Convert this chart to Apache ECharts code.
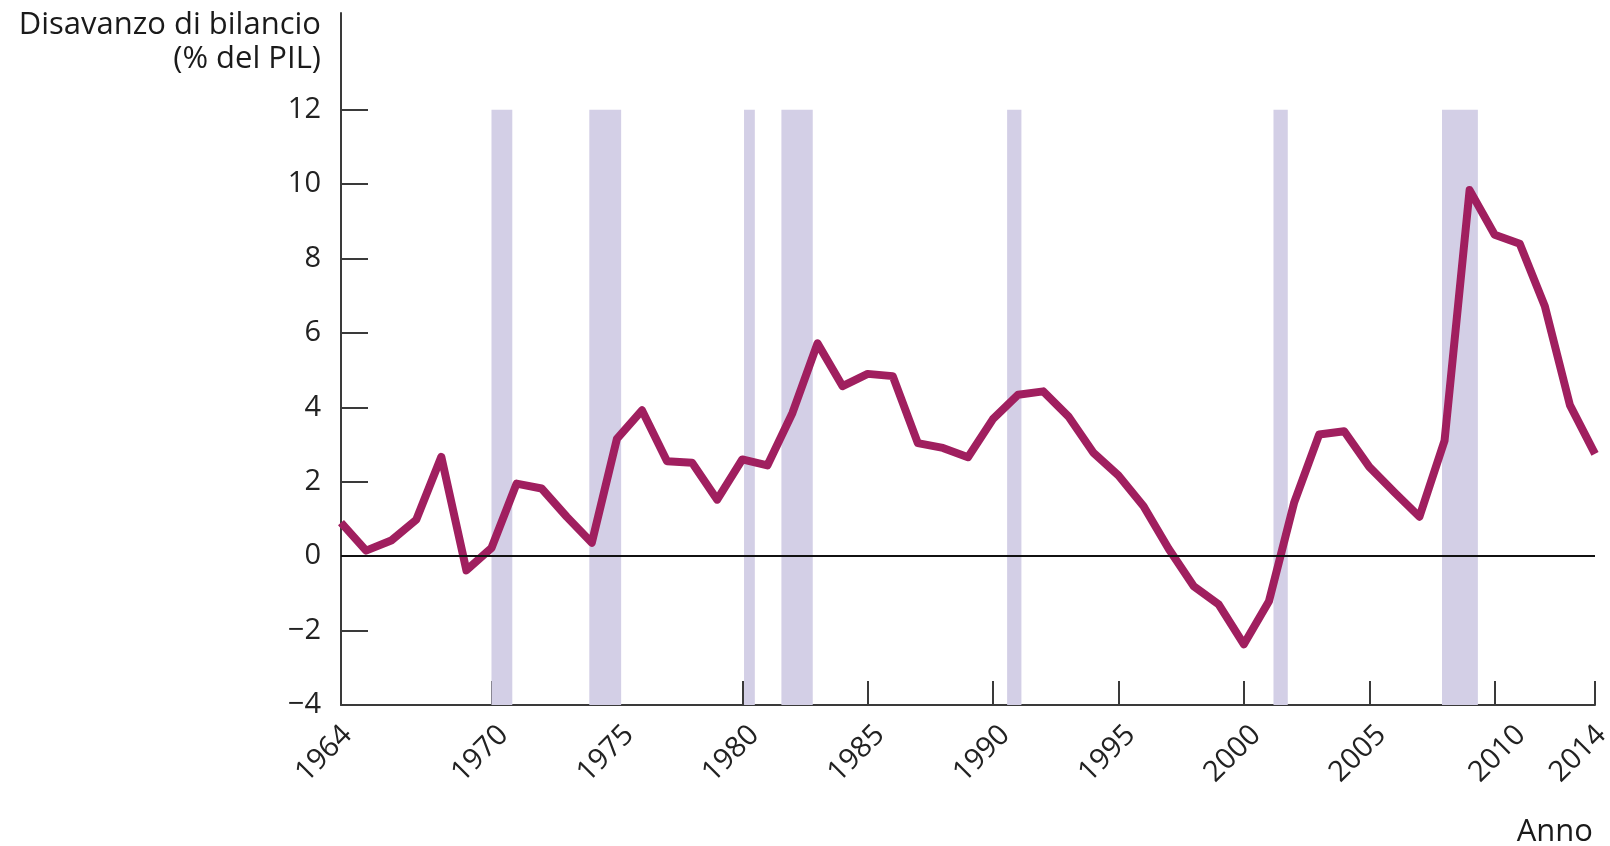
<!DOCTYPE html>
<html>
<head>
<meta charset="utf-8">
<script src="https://cdn.jsdelivr.net/npm/echarts@6/dist/echarts.min.js"></script>
<style>
  html, body { margin: 0; padding: 0; background: #fff; }
  #chart { width: 1610px; height: 846px; }
</style>
</head>
<body>
<div id="chart"></div>
<script>
// ---- data ----
const years = [1964, 1965, 1966, 1967, 1968, 1969, 1970, 1971, 1972, 1973, 1974,
  1975, 1976, 1977, 1978, 1979, 1980, 1981, 1982, 1983, 1984,
  1985, 1986, 1987, 1988, 1989, 1990, 1991, 1992, 1993, 1994,
  1995, 1996, 1997, 1998, 1999, 2000, 2001, 2002, 2003, 2004,
  2005, 2006, 2007, 2008, 2009, 2010, 2011, 2012, 2013, 2014];
const deficit = [0.9, 0.15, 0.42, 0.98, 2.67, -0.38, 0.22, 1.95, 1.82, 1.06, 0.36,
  3.15, 3.92, 2.55, 2.51, 1.52, 2.6, 2.44, 3.85, 5.72, 4.57,
  4.9, 4.84, 3.04, 2.91, 2.66, 3.69, 4.34, 4.43, 3.76, 2.78,
  2.17, 1.34, 0.2, -0.81, -1.3, -2.37, -1.21, 1.43, 3.27, 3.36,
  2.4, 1.72, 1.06, 3.1, 9.84, 8.64, 8.4, 6.72, 4.06, 2.75];
// recession periods (start, end) in fractional years
const recessions = [[1970.0, 1970.83], [1973.9, 1975.17], [1980.07, 1980.5],
  [1981.56, 1982.81], [1990.56, 1991.13], [2001.18, 2001.75], [2007.9, 2009.33]];
const xTickValues = [1970, 1975, 1980, 1985, 1990, 1995, 2000, 2005, 2010, 2014];
const xLabelValues = [1964, 1970, 1975, 1980, 1985, 1990, 1995, 2000, 2005, 2010, 2014];
const yTickValues = [-4, -2, 0, 2, 4, 6, 8, 10, 12];
const yTitle = 'Disavanzo di bilancio\n(% del PIL)';
const xTitle = 'Anno';

// ---- chart ----
const FONT = '"Open Sans", "Noto Sans", sans-serif';
const chart = echarts.init(document.getElementById('chart'), null, { renderer: 'canvas' });

const lineData = years.map((y, i) => [y, deficit[i]]);
const bandData = recessions.map(r => [{ xAxis: r[0], yAxis: -4 }, { xAxis: r[1], yAxis: 12 }]);

// label nudges (rich style keys) to follow the reference's label placement
function xLabelFormatter(v) {
  const s = String(v);
  if (v === 1964 || v === 2014) return '{l|' + s + '}';
  if (v === 2010) return '{r|' + s + '}';
  return '{n|' + s + '}';
}
const labelFont = { fontFamily: FONT, fontSize: 29, color: '#222' };

chart.setOption({
  animation: false,
  backgroundColor: '#ffffff',
  grid: { left: 341, right: 15, top: 13, bottom: 141, containLabel: false, outerBoundsMode: 'none' },
  xAxis: {
    type: 'value',
    min: 1964,
    max: 2014,
    splitLine: { show: false },
    axisLine: { show: true, onZero: false, lineStyle: { color: '#3a3a3a', width: 2 } },
    axisTick: { show: true, inside: true, length: 24, customValues: xTickValues,
      lineStyle: { color: '#3a3a3a', width: 2 } },
    axisLabel: {
      customValues: xLabelValues,
      rotate: 45,
      align: 'center',
      verticalAlign: 'middle',
      margin: 49,
      padding: [0, 16, 16, 0],
      fontFamily: FONT,
      fontSize: 29,
      color: '#222',
      formatter: xLabelFormatter,
      rich: {
        n: Object.assign({}, labelFont),
        l: Object.assign({ padding: [0, 8, 8, 0] }, labelFont),
        r: Object.assign({ padding: [20, 0, 0, 20] }, labelFont)
      }
    }
  },
  yAxis: {
    type: 'value',
    min: -4,
    max: 14.6,
    splitLine: { show: false },
    axisLine: { show: true, onZero: false, lineStyle: { color: '#3a3a3a', width: 2 } },
    axisTick: { show: true, inside: true, length: 27, customValues: yTickValues,
      lineStyle: { color: '#3a3a3a', width: 2 } },
    axisLabel: {
      customValues: yTickValues,
      margin: 20,
      fontFamily: FONT,
      fontSize: 29,
      color: '#222',
      formatter: v => (v < 0 ? '\u2212' + Math.abs(v) : String(v))
    }
  },
  graphic: [
    {
      type: 'text',
      x: 321, y: 8,
      style: { text: yTitle, font: '31px ' + FONT, fill: '#1a1a1a', align: 'right',
        verticalAlign: 'top', lineHeight: 34 }
    },
    {
      type: 'text',
      x: 1593, y: 832,
      style: { text: xTitle, font: '31px ' + FONT, fill: '#1a1a1a', align: 'right',
        verticalAlign: 'middle' }
    }
  ],
  series: [
    {
      type: 'line',
      data: [],
      z: 1,
      silent: true,
      markArea: {
        silent: true,
        itemStyle: { color: '#d3cfe6', opacity: 1 },
        data: bandData
      }
    },
    {
      type: 'line',
      data: [],
      z: 2,
      silent: true,
      markLine: {
        silent: true,
        symbol: ['none', 'none'],
        label: { show: false },
        lineStyle: { color: '#111', width: 2, type: 'solid' },
        data: [{ yAxis: 0 }]
      }
    },
    {
      type: 'line',
      data: lineData,
      z: 3,
      symbol: 'none',
      lineStyle: { color: '#a01f5f', width: 8, join: 'round', cap: 'butt' }
    }
  ]
});
</script>
</body>
</html>
